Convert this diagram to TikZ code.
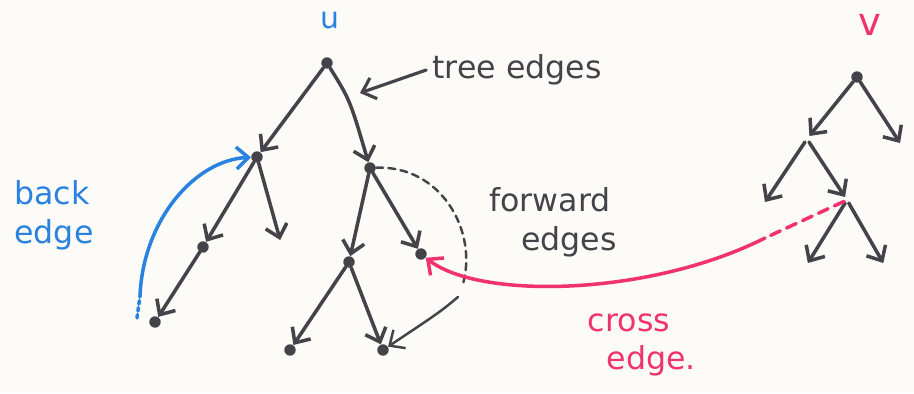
\documentclass[tikz,border=0pt]{standalone}
\usepackage{fontspec}
\setmainfont{DejaVu Sans}
\usetikzlibrary{arrows.meta}
\definecolor{ink}{HTML}{45434A}
\definecolor{bluepen}{HTML}{2A82E0}
\definecolor{redpen}{HTML}{F0336E}
\definecolor{paper}{HTML}{FCFBF7}

\begin{document}
\begin{tikzpicture}[x=0.02cm, y=-0.02cm,
  vert/.style={circle, fill=ink, inner sep=0pt, minimum size=6.5pt},
  tip/.style={inner sep=0pt, minimum size=3pt},
  barb/.style={-{Straight Barb[length=2.4mm,width=4.4mm]}},
  tree/.style={draw=ink, line width=2pt, line cap=round, barb},
  fwd/.style={draw=ink, line width=1.4pt, line cap=round},
  back/.style={draw=bluepen, line width=2pt, line cap=round},
  cross/.style={draw=redpen, line width=2pt, line cap=round},
  lbl/.style={font=\fontsize{18}{22}\selectfont, text=ink}]
  \fill[paper] (0,0) rectangle (914,393);
  % left tree, rooted at u
  \node[vert] (u)   at (327, 63) {};
  \node[vert] (a)   at (257,157) {};
  \node[vert] (b)   at (370,168) {};
  \node[vert] (a1)  at (203,247) {};
  \node[tip]  (a2)  at (281,243) {};
  \node[vert] (a11) at (155,322) {};
  \node[vert] (b1)  at (349,262) {};
  \node[vert] (b2)  at (421,254) {};
  \node[vert] (b11) at (290,350) {};
  \node[vert] (b12) at (383,350) {};
  \draw[tree] (u) -- (a);
  \draw[tree] (u) .. controls (350,100) .. (b);
  \draw[tree] (a) -- (a1);
  \draw[tree] (a1) -- (a11);
  \draw[tree] (a) -- (a2);
  \draw[tree] (b) -- (b1);
  \draw[tree] (b) -- (b2);
  \draw[tree] (b1) -- (b11);
  \draw[tree] (b1) -- (b12);
  % right tree, rooted at v
  \node[vert] (v)   at (857, 77) {};
  \node[tip]  (r1)  at (807,139) {};
  \node[tip]  (r2)  at (902,146) {};
  \node[tip]  (r11) at (763,205) {};
  \node[tip]  (r12) at (847,200) {};
  \node[tip]  (r121) at (806,266) {};
  \node[tip]  (r122) at (885,266) {};
  \draw[tree] (v) -- (r1);
  \draw[tree] (v) -- (r2);
  \draw[tree] (r1) -- (r11);
  \draw[tree] (r1) -- (r12);
  \draw[tree] (r12) -- (r121);
  \draw[tree] (r12) -- (r122);
  % forward edge
  \coordinate (fm)  at (463,284);
  \coordinate (fm2) at (458,297);
  \draw[fwd, dashed, dash pattern=on 4pt off 3pt] (b) .. controls (440,165) and (478,230) .. (fm);
  \draw[fwd, barb] (fm2) .. controls (440,312) .. (b12);
  % back edge
  \coordinate (bs) at (137,318);
  \coordinate (bm) at (140,296);
  \draw[back, dotted] (bs) -- (bm);
  \draw[back, barb] (bm) .. controls (143,220) and (195,160) .. (a);
  % cross edge
  \coordinate (cm) at (765,238);
  \draw[cross, dashed, dash pattern=on 6pt off 4pt] (r12) -- (cm);
  \draw[cross, barb] (cm) .. controls (650,296) and (480,300) .. (b2);
  % labels
  \node[text=bluepen, font=\fontsize{17}{20}\selectfont] (ulbl) at (330,20) {u};
  \node[text=redpen, font=\fontsize{22}{24}\selectfont] (vlbl) at (870,25) {v};
  \node[lbl] (treelbl) at (517,70) {tree edges};
  \coordinate (tp) at (360,93);
  \draw[fwd, line width=1.8pt, barb] (treelbl.west) -- (tp);
  \node[lbl, align=center] (fwdlbl) at (550,222) {forward\\\hspace*{1.2em}edges};
  \node[lbl, text=bluepen, align=left] (backlbl) at (54,215) {back\\edge};
  \node[lbl, text=redpen, align=left] (crosslbl) at (642,345) {cross\\\hspace*{0.6em}edge.};
\end{tikzpicture}
\end{document}
